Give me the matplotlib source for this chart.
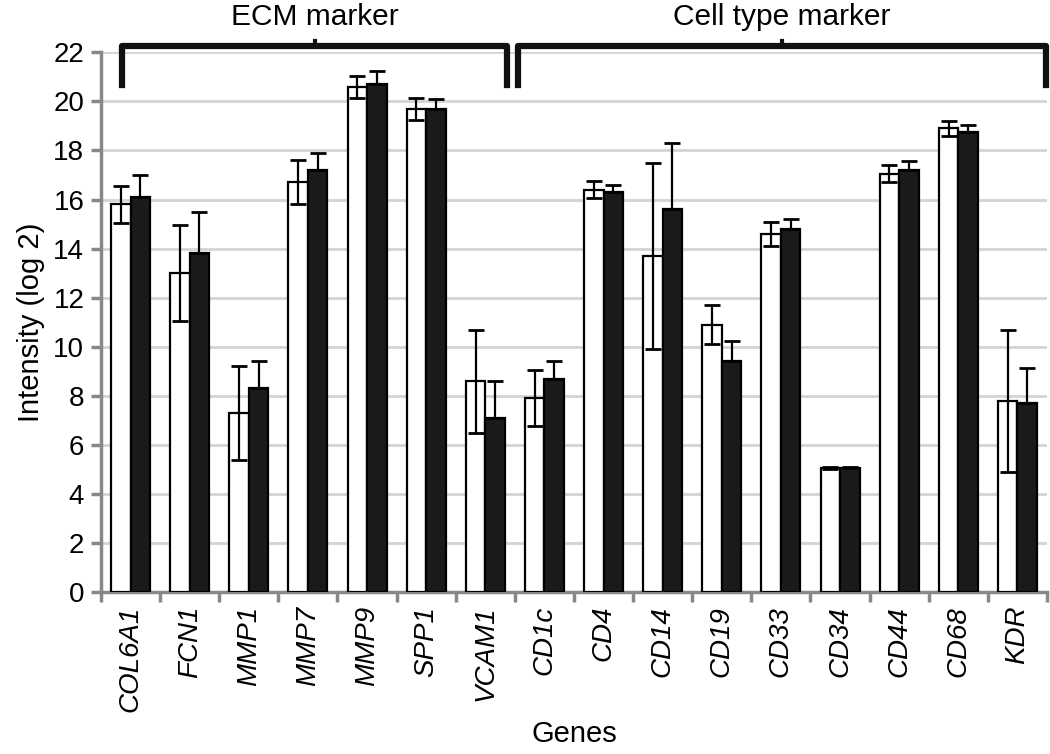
import numpy as np
import matplotlib
matplotlib.use('Agg')
import matplotlib.pyplot as plt

plt.rcParams['font.family'] = ['Liberation Sans', 'DejaVu Sans']

genes = ['COL6A1', 'FCN1', 'MMP1', 'MMP7', 'MMP9', 'SPP1', 'VCAM1',
         'CD1c', 'CD4', 'CD14', 'CD19', 'CD33', 'CD34', 'CD44', 'CD68', 'KDR']
white_vals = [15.8, 13.0, 7.3, 16.7, 20.6, 19.7, 8.6,
              7.9, 16.4, 13.7, 10.9, 14.6, 5.05, 17.05, 18.9, 7.8]
white_err = [0.75, 1.95, 1.9, 0.9, 0.45, 0.45, 2.1,
             1.15, 0.35, 3.8, 0.8, 0.5, 0.05, 0.35, 0.3, 2.9]
black_vals = [16.1, 13.8, 8.3, 17.2, 20.7, 19.7, 7.1,
              8.7, 16.3, 15.6, 9.4, 14.8, 5.05, 17.2, 18.75, 7.7]
black_err = [0.9, 1.7, 1.1, 0.7, 0.55, 0.4, 1.5,
             0.7, 0.3, 2.7, 0.85, 0.4, 0.05, 0.35, 0.3, 1.45]

groups = ['ECM marker', 'Cell type marker']

ind = np.arange(len(genes))
width = 0.33

fig = plt.figure(figsize=(10.5, 7.54), dpi=100)
ax = fig.add_axes([0.0962, 0.2149, 0.9009, 0.7157])

err_kw = dict(ecolor='black', elinewidth=1.6, capsize=6, capthick=2)
ax.bar(ind - width / 2, white_vals, width, color='white', edgecolor='black',
       linewidth=1.6, yerr=white_err, error_kw=err_kw, zorder=3)
# lower half of the black bars' error bars is hidden by the bar itself
ax.bar(ind + width / 2, black_vals, width, color='#1a1a1a', edgecolor='black',
       linewidth=1.6, yerr=[np.zeros(len(genes)), black_err],
       error_kw=err_kw, zorder=3)

ax.set_xlim(-0.5, len(genes) - 0.5)
ax.set_ylim(0, 22)
ax.set_yticks(np.arange(0, 23, 2))
ax.yaxis.grid(True, color='#d4d4d4', linewidth=2, zorder=0)
ax.set_axisbelow(True)

# category boundaries as ticks, labels in the middle
ax.set_xticks(np.arange(-0.5, len(genes)), minor=False)
ax.set_xticklabels([])
ax.set_xticks(ind, minor=True)
ax.set_xticklabels(genes, minor=True, rotation=90, style='italic', fontsize=20)
ax.tick_params(axis='x', which='minor', length=0, pad=10)
ax.tick_params(axis='x', which='major', length=7, width=2.5, color='#888888')
ax.tick_params(axis='y', length=7, width=2.5, color='#888888', labelsize=20, pad=5)

for side in ['top', 'right']:
    ax.spines[side].set_visible(False)
for side in ['left', 'bottom']:
    ax.spines[side].set_color('#888888')
    ax.spines[side].set_linewidth(2.5)

ax.set_ylabel('Intensity (log 2)', fontsize=21, labelpad=6)
ax.set_xlabel('Genes', fontsize=21, labelpad=6)

# brackets above the groups
top_y, leg_y = 22.25, 20.65
edges = [(-0.14, 6.37), (6.55, 15.48)]
for name, (x0, x1) in zip(groups, edges):
    ax.plot([x0, x0, x1, x1], [leg_y, top_y, top_y, leg_y],
            color='#111111', linewidth=4.5, solid_joinstyle='round',
            clip_on=False, zorder=5)
    xm = (x0 + x1) / 2
    ax.plot([xm, xm], [top_y, top_y + 0.2], color='#111111', linewidth=3,
            clip_on=False, zorder=5)
    ax.text(xm, 23.45, name, ha='center', va='center', fontsize=21.5,
            clip_on=False)

plt.savefig('out.png', dpi=100)
